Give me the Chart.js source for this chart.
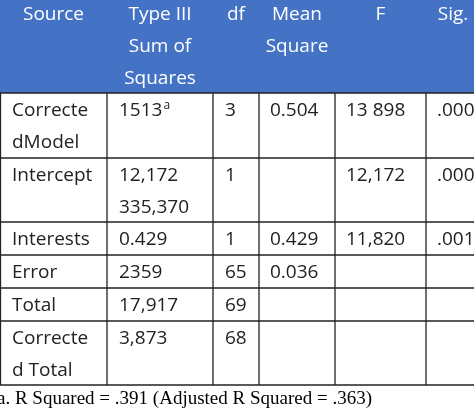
<!DOCTYPE html>
<html><head><meta charset="utf-8">
<script src="https://cdn.jsdelivr.net/npm/chart.js@4"></script>
<style>html,body{margin:0;padding:0;background:#fff}#w{width:474px;height:411px}</style>
</head><body><div id="w"><canvas id="c"></canvas></div>
<script>
const headers = [["Source"],["Type III","Sum of","Squares"],["df"],["Mean","Square"],["F"],["Sig."]];
const sources = [["Correcte","dModel"],["Intercept"],["Interests"],["Error"],["Total"],["Correcte","d Total"]];
const sumSquares = [["1513ᵃ"],["12,172","335,370"],["0.429"],["2359"],["17,917"],["3,873"]];
const dfs = ["3","1","1","65","69","68"];
const meanSquares = ["0.504","","0.429","0.036","",""];
const fValues = ["13 898","12,172","11,820","","",""];
const sigs = [".000",".000",".001","","",""];
const footnote = "a. R Squared = .391 (Adjusted R Squared = .363)";
const colEdges = [0,107,213,259,335,426,474];
const rowEdges = [0,93,158,222,255,288,321,385];

const tablePlugin = {
  id:'table',
  afterDraw(chart){
    const ctx = chart.ctx, xs = chart.scales.x, ys = chart.scales.y;
    const X = v=>xs.getPixelForValue(v), Y = v=>ys.getPixelForValue(v);
    ctx.save();
    ctx.fillStyle='#4472C4';
    ctx.fillRect(X(0),Y(0),X(474)-X(0),Y(93)-Y(0));
    ctx.font='19px "Open Sans", "Noto Sans", sans-serif';
    ctx.textBaseline='middle';
    ctx.fillStyle='#fff'; ctx.textAlign='center';
    headers.forEach((h,i)=>{
      const cx=(X(colEdges[i])+X(colEdges[i+1]))/2;
      h.forEach((t,j)=>ctx.fillText(t, i===5?X(colEdges[i])+27:cx, Y(15+32*j)));
    });
    ctx.textAlign='left'; ctx.fillStyle='#222';
    const cols=[sources,sumSquares,dfs,meanSquares,fValues,sigs];
    const padX=[12,12,12,11,11,11];
    for(let r=0;r<6;r++){
      const top=rowEdges[r+1];
      cols.forEach((col,c)=>{
        let v=col[r]; if(!Array.isArray(v)) v=[v];
        v.forEach((t,j)=>{
          if(c===1 && t.endsWith('ᵃ')){
            const b=t.slice(0,-1); ctx.fillText(b,X(colEdges[c]+padX[c]),Y(top+18+32*j));
            const w=ctx.measureText(b).width;
            ctx.font='12px "Open Sans", sans-serif';
            ctx.fillText('a',X(colEdges[c]+padX[c])+w+1,Y(top+13));
            ctx.font='19px "Open Sans", "Noto Sans", sans-serif';
          } else ctx.fillText(t,X(colEdges[c]+padX[c]),Y(top+18+32*j));
        });
      });
    }
    ctx.strokeStyle='#222'; ctx.lineWidth=1.3;
    rowEdges.slice(1).forEach(y=>{ctx.beginPath();ctx.moveTo(X(0),Y(y));ctx.lineTo(X(474),Y(y));ctx.stroke();});
    colEdges.slice(1,-1).forEach(x=>{ctx.beginPath();ctx.moveTo(X(x),Y(93));ctx.lineTo(X(x),Y(385));ctx.stroke();});
    ctx.beginPath();ctx.moveTo(X(0.5),Y(93));ctx.lineTo(X(0.5),Y(385));ctx.stroke();
    ctx.fillStyle='#000'; ctx.font='19px "Liberation Serif", "Times New Roman", serif';
    ctx.fillText(footnote,X(-3),Y(399));
    ctx.restore();
  }
};
new Chart(document.getElementById('c'),{
  type:'scatter',
  data:{datasets:[{data:[]}]},
  options:{responsive:true,maintainAspectRatio:false,animation:false,
    layout:{padding:0},
    plugins:{legend:{display:false},tooltip:{enabled:false}},
    scales:{x:{type:'linear',min:0,max:474,display:false},
            y:{type:'linear',min:0,max:411,reverse:true,display:false}}},
  plugins:[tablePlugin]
});
</script></body></html>
